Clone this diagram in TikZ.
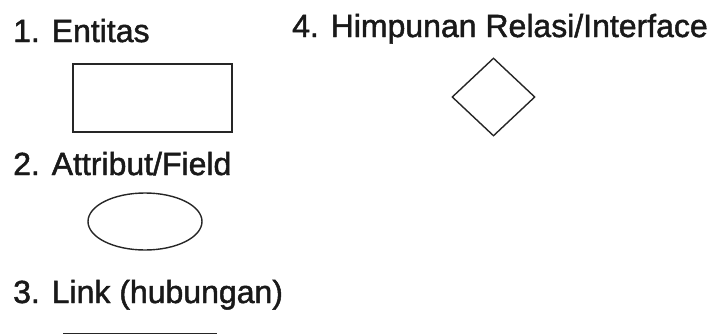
\documentclass[tikz,border=0pt]{standalone}
\usepackage{fontspec}
\setmainfont{Liberation Sans}[FakeBold=1.5]
\usetikzlibrary{shapes.geometric}
\tikzset{
  label/.style={anchor=base west, inner sep=0pt, text=black!90, font=\fontsize{32}{36}\selectfont},
  symbol/.style={draw=black!85, line width=1.4pt, inner sep=0pt},
}
\begin{document}
\begin{tikzpicture}[x=1pt, y=-1pt]
  \useasboundingbox (0,0) rectangle (712,335);

  % legend captions
  \node[label] (t1) at (13,42) {1. Entitas};
  \node[label] (t2) at (13,175) {2. Attribut/Field};
  \node[label] (t3) at (13,303) {3. Link (hubungan)};
  \node[label] (t4) at (292,37) {4. Himpunan Relasi/Interface};

  % symbols
  \node[symbol, rectangle, minimum width=159pt, minimum height=68pt] (ent) at (152.5,98) {};
  \node[symbol, ellipse, minimum width=114pt, minimum height=57pt] (attr) at (145,221.5) {};
  \node[symbol, diamond, minimum width=83pt, minimum height=78pt] (rel) at (493.5,97) {};

  % link line
  \coordinate (l1) at (63,333.5);
  \coordinate (l2) at (217,333.5);
  \draw[line width=1.4pt, draw=black!85] (l1) -- (l2);
\end{tikzpicture}
\end{document}
